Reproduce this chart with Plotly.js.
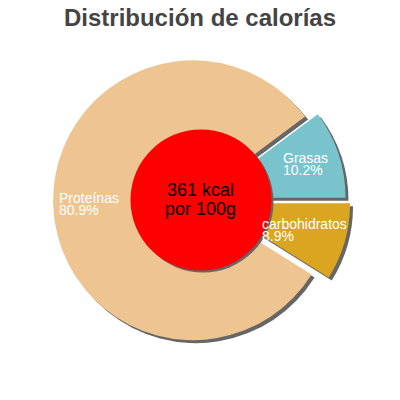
<!DOCTYPE html>
<html>
<head>
<meta charset="utf-8">
<script src="https://cdn.plot.ly/plotly-3.0.1.min.js"></script>
<style>html,body{margin:0;padding:0;background:#fff;}#chart{width:400px;height:400px;}</style>
</head>
<body>
<div id="chart"></div>
<script>
// ---- data ----
const labels = ['Grasas', 'carbohidratos', 'Proteínas'];
const values = [10.2, 8.9, 80.9];
const kcal = 361;
const centerLine2 = 'por 100g';
const titleText = 'Distribución de calorías';

// ---- style ----
const colors = ['#78c3cc', '#daa520', '#eec591'];
const pulls = [0.05, 0.083, 0.043];
const shadowColor = '#666666';
const W = 400, H = 400;
const pieCenter = [199, 200];
const pieBox = 303;          // px, includes room for pull
const holeBox = 141;         // px, red centre disc
const shadowOff = 3;         // px
// label anchor positions (px, left edge, middle of each line)
const labelPos = [[282, 158, 170], [261, 224, 235.5], [58, 198, 209.5]];
const fontFam = '"Liberation Sans", Arial, sans-serif';

const total = values.reduce((a, b) => a + b, 0);
const rotation = 90 - values[0] / total * 360;

function dom(cx, cy, size) {
  return {
    x: [(cx - size / 2) / W, (cx + size / 2) / W],
    y: [1 - (cy + size / 2) / H, 1 - (cy - size / 2) / H]
  };
}

const base = {
  type: 'pie', labels: labels, values: values, sort: false,
  direction: 'clockwise', rotation: rotation, pull: pulls,
  textinfo: 'none', hoverinfo: 'skip', showlegend: false
};

const traces = [
  Object.assign({}, base, {
    domain: dom(pieCenter[0] + shadowOff, pieCenter[1] + shadowOff, pieBox),
    marker: { colors: labels.map(() => shadowColor), line: { width: 0 } }
  }),
  Object.assign({}, base, {
    domain: dom(pieCenter[0], pieCenter[1], pieBox),
    marker: { colors: colors, line: { width: 0 } }
  }),
  {
    type: 'pie', labels: ['s'], values: [1], sort: false, textinfo: 'none',
    hoverinfo: 'skip', showlegend: false,
    domain: dom(201 + 2, 200 + 2, holeBox),
    marker: { colors: [shadowColor], line: { width: 0 } }
  },
  {
    type: 'pie', labels: ['c'], values: [1], sort: false, textinfo: 'none',
    hoverinfo: 'skip', showlegend: false,
    domain: dom(201, 200, holeBox),
    marker: { colors: ['#ff0000'], line: { width: 0 } }
  }
];

const annotations = [];
labels.forEach((lab, i) => {
  const pct = (values[i] / total * 100).toFixed(1) + '%';
  const p = labelPos[i];
  annotations.push({
    text: lab, x: p[0] / W, y: 1 - p[1] / H, xref: 'paper', yref: 'paper',
    xanchor: 'left', yanchor: 'middle', showarrow: false, borderpad: 0,
    font: { family: fontFam, size: 14, color: '#ffffff' }
  });
  annotations.push({
    text: pct, x: p[0] / W, y: 1 - p[2] / H, xref: 'paper', yref: 'paper',
    xanchor: 'left', yanchor: 'middle', showarrow: false, borderpad: 0,
    font: { family: fontFam, size: 14, color: '#ffffff' }
  });
});
annotations.push({
  text: kcal + ' kcal', x: 200 / W, y: 1 - 190 / H, xref: 'paper', yref: 'paper',
  xanchor: 'center', yanchor: 'middle', showarrow: false,
  font: { family: fontFam, size: 18, color: '#000000' }
});
annotations.push({
  text: centerLine2, x: 200 / W, y: 1 - 209 / H, xref: 'paper', yref: 'paper',
  xanchor: 'center', yanchor: 'middle', showarrow: false,
  font: { family: fontFam, size: 18, color: '#000000' }
});

const layout = {
  width: W, height: H,
  margin: { l: 0, r: 0, t: 0, b: 0 },
  paper_bgcolor: '#ffffff',
  showlegend: false,
  title: {
    text: '<b>' + titleText + '</b>',
    x: 0.5, xanchor: 'center', y: 1 - 18 / H, yanchor: 'middle', yref: 'container',
    font: { family: fontFam, size: 24, color: '#444444' }
  },
  annotations: annotations
};

Plotly.newPlot('chart', traces, layout, { staticPlot: true, displayModeBar: false });
</script>
</body>
</html>
